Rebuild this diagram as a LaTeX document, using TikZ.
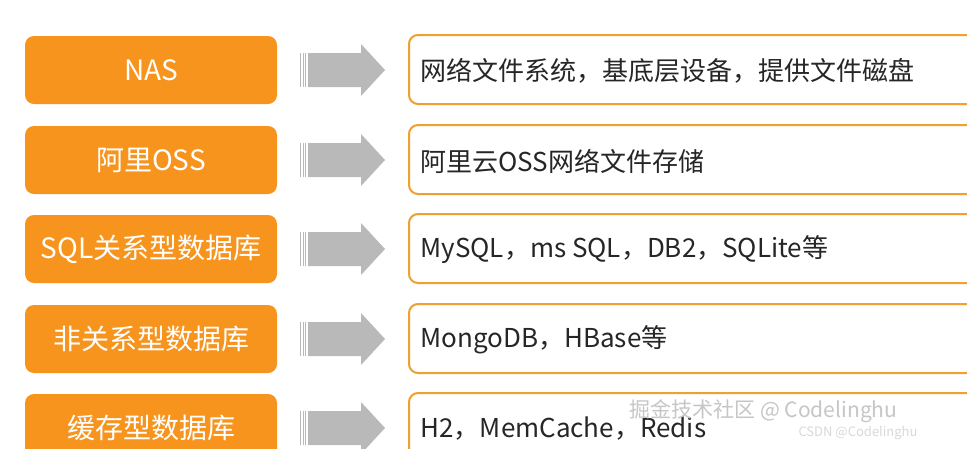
\documentclass[tikz,border=0pt]{standalone}
\usepackage{fontspec}
\setmainfont{Noto Sans CJK SC}
\begin{document}
\begin{tikzpicture}[x=1pt,y=-1pt,
  lbox/.style={rounded corners=9pt,fill=orange1,draw=none,minimum width=252pt,minimum height=68pt,text=white,font=\fontsize{28}{30}\selectfont},
  rbox/.style={rounded corners=9pt,draw=orange2,line width=2pt,fill=white},
  rtxt/.style={anchor=west,text=black!85,font=\fontsize{26}{28}\selectfont},
  arr/.style={fill=gray!55,draw=none}]
\definecolor{orange1}{HTML}{F7941D}
\definecolor{orange2}{HTML}{EFA030}
\useasboundingbox (0,0) rectangle (967,448);
\clip (0,0) rectangle (967,448);
\fill[white] (0,0) rectangle (967,448);
\foreach \i/\l/\r [count=\k from 0] in {70/NAS/网络文件系统，基底层设备，提供文件磁盘,160/阿里OSS/阿里云OSS网络文件存储,249/SQL关系型数据库/{MySQL，ms SQL，DB2，SQLite等},339/非关系型数据库/{MongoDB，HBase等},428/缓存型数据库/{H2，MemCache，Redis}}{
  \node[lbox] (L\k) at (151,\i) {\l};
  \draw[rbox] (409,\i-35) rectangle (990,\i+34);
  \coordinate (R\k) at (409,\i);
  \node[rtxt] (T\k) at (417,\i+1) {\r};
  \fill[arr] (308,\i-17) -- (361,\i-17) -- (361,\i-26) -- (385,\i) -- (361,\i+26) -- (361,\i+17) -- (308,\i+17) -- cycle;
  \foreach \s in {300,302.5,305} \fill[arr] (\s,\i-17) rectangle (\s+1.3,\i+17);
}
\node[anchor=west,text=gray!45,font=\fontsize{21}{22}\selectfont] (W1) at (626,411) {掘金技术社区 @ Codelinghu};
\node[anchor=west,text=gray!30,font=\fontsize{13}{14}\selectfont] (W2) at (795,433) {CSDN @Codelinghu};
\end{tikzpicture}
\end{document}
